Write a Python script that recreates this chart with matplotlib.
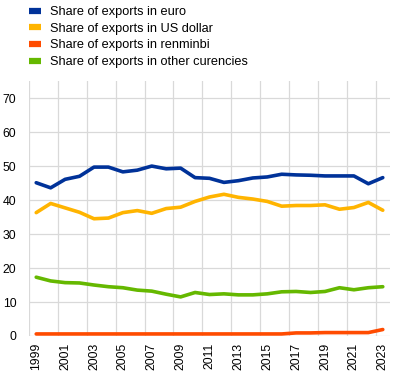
import matplotlib
matplotlib.use("Agg")
import matplotlib.pyplot as plt
import numpy as np
from matplotlib.lines import Line2D

plt.rcParams['font.family'] = ['Liberation Sans', 'DejaVu Sans']

years = list(range(1999, 2024))
euro = [45.1, 43.6, 46.1, 47.0, 49.7, 49.7, 48.3, 48.8, 50.0, 49.2, 49.4, 46.6, 46.4,
        45.2, 45.7, 46.5, 46.8, 47.6, 47.4, 47.3, 47.1, 47.1, 47.1, 44.8, 46.6]
usd = [36.3, 39.0, 37.7, 36.4, 34.5, 34.7, 36.3, 36.9, 36.1, 37.5, 37.9, 39.6, 40.9,
       41.7, 40.8, 40.3, 39.6, 38.2, 38.4, 38.4, 38.6, 37.3, 37.8, 39.3, 37.0]
rmb = [0.6, 0.6, 0.6, 0.6, 0.6, 0.6, 0.6, 0.6, 0.6, 0.6, 0.6, 0.6, 0.6,
       0.6, 0.6, 0.6, 0.6, 0.6, 0.9, 0.9, 1.0, 1.0, 1.0, 1.0, 1.9]
other = [17.3, 16.2, 15.7, 15.6, 15.0, 14.5, 14.2, 13.5, 13.2, 12.3, 11.5, 12.8, 12.2,
         12.4, 12.1, 12.1, 12.4, 13.0, 13.1, 12.8, 13.1, 14.2, 13.6, 14.2, 14.5]
labels = ["Share of exports in euro", "Share of exports in US dollar",
          "Share of exports in renminbi", "Share of exports in other curencies"]
colors = ["#003299", "#FFB400", "#FF4B00", "#65B800"]

fig = plt.figure(figsize=(4.0, 3.77), dpi=100)
ax = fig.add_axes([0.0725, 0.1088, 0.9025, 0.676])
x = np.arange(len(years))
for s, c, l in zip([euro, usd, rmb, other], colors, labels):
    ax.plot(x, s, color=c, lw=2.6, label=l, solid_capstyle='round')

ax.set_xlim(-0.5, len(years) - 0.5)
ax.set_ylim(0, 75)
ax.set_yticks(range(0, 71, 10))
ax.set_xticks(x[::2])
ax.set_xticklabels([str(y) for y in years[::2]], rotation=90, fontsize=8.8)
ax.tick_params(axis='y', labelsize=8.8, length=0, pad=9)
ax.tick_params(axis='x', length=0, pad=5)
ax.set_xticks(np.arange(-0.5, len(years), 2), minor=True)
ax.tick_params(axis='x', which='minor', length=0)
ax.grid(True, axis='y', color='#d9d9d9', lw=0.9)
ax.grid(True, axis='x', which='minor', color='#d9d9d9', lw=0.9)
ax.grid(False, axis='x', which='major')
ax.set_axisbelow(True)
for sp in ax.spines.values():
    sp.set_visible(False)

lh = [Line2D([0], [0], color=c, lw=4.5, solid_capstyle='butt') for c in colors]
fig.legend(lh, labels, loc='upper left', bbox_to_anchor=(0.06, 0.997), frameon=False,
           fontsize=9.2, handlelength=0.95, handletextpad=0.7, labelspacing=0.36,
           borderaxespad=0.0)

fig.savefig("out.png", dpi=100)
